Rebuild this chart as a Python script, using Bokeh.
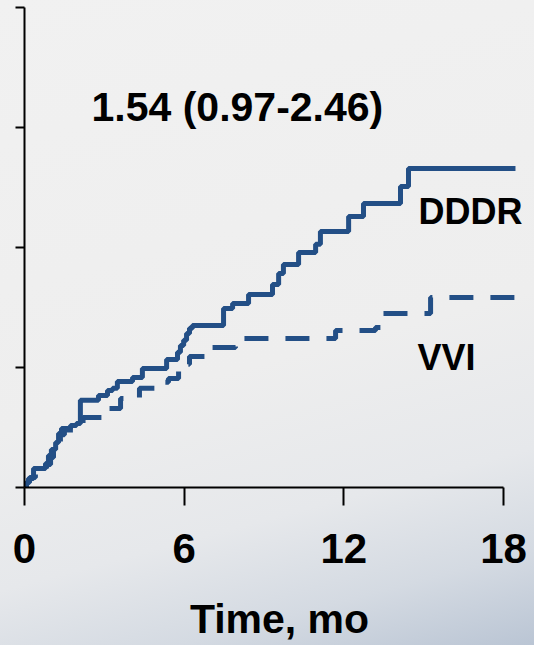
from bokeh.plotting import figure
from bokeh.models import FixedTicker, Range1d, Label
from bokeh.embed import file_html
from bokeh.resources import INLINE

# Cumulative incidence (%) by month
dddr_months = [0, 0.075, 0.15, 0.34, 0.79, 0.90, 1.01, 1.17, 1.28, 1.39, 1.73, 1.95,
               2.10, 2.78, 3.12, 3.31, 3.49, 4.06, 4.43, 5.34, 5.75, 5.86, 5.98,
               6.09, 6.20, 6.31, 7.48, 7.82, 8.42, 9.32, 9.55, 9.73, 10.30, 10.94,
               11.12, 12.18, 12.74, 14.13, 14.43, 18.45]
dddr_pct = [0, 0.21, 0.38, 0.79, 1.00, 1.33, 1.58, 1.88, 2.25, 2.46, 2.58, 2.67,
            3.63, 3.83, 4.04, 4.13, 4.42, 4.58, 4.96, 5.33, 5.63, 5.92, 6.13,
            6.42, 6.63, 6.75, 7.46, 7.67, 8.04, 8.46, 8.92, 9.29, 9.79, 10.13,
            10.67, 11.29, 11.83, 12.54, 13.29, 13.29]

vvi_months = [0, 0.075, 0.19, 0.41, 0.83, 0.98, 1.09, 1.24, 1.35, 1.50, 1.92, 2.20,
              2.93, 3.61, 4.32, 5.11, 5.41, 5.79, 5.98, 6.20, 6.91, 7.93, 8.19,
              11.69, 13.19, 13.38, 15.26, 18.45]
vvi_pct = [0, 0.21, 0.42, 0.75, 0.96, 1.25, 1.50, 1.83, 2.20, 2.40, 2.50, 2.92,
           3.29, 3.71, 4.13, 4.38, 4.54, 4.83, 5.13, 5.46, 5.83, 6.00, 6.21,
           6.54, 6.67, 7.25, 7.92, 7.92]

x_ticks = [0, 6, 12, 18]
y_ticks = [0, 5, 10, 15, 20]

hazard_text = "1.54 (0.97-2.46)"
series_names = ["DDDR", "VVI"]

LINE = "#234f86"
FONT = "Liberation Sans"

p = figure(width=534, height=645, output_backend="svg", toolbar_location=None,
           x_range=Range1d(0, 19.165), y_range=Range1d(0, 20.29),
           min_border_left=24, min_border_right=0, min_border_top=0,
           min_border_bottom=158)

p.styles = {"background-image":
            "linear-gradient(165deg, #f1f1f1 0%, #eeeeee 55%, #e6e8eb 75%, #d4dae2 88%, #bac5d4 100%)"}
p.background_fill_alpha = 0
p.border_fill_alpha = 0
p.outline_line_color = None
p.grid.visible = False

p.step(dddr_months, dddr_pct, mode="after", line_color=LINE, line_width=5)
p.step(vvi_months, vvi_pct, mode="after", line_color=LINE, line_width=5,
       line_dash="24 17")

# x axis
xa = p.xaxis[0]
xa.ticker = FixedTicker(ticks=x_ticks)
xa.bounds = (0, 18)
xa.minor_tick_line_color = None
xa.major_tick_in = 0
xa.major_tick_out = 18
xa.axis_line_width = 2
xa.major_tick_line_width = 2
xa.axis_line_color = "black"
xa.major_tick_line_color = "black"
xa.major_label_text_font = FONT
xa.major_label_text_font_style = "bold"
xa.major_label_text_font_size = "42px"
xa.major_label_text_color = "black"
xa.major_label_standoff = 28
xa.axis_label = "Time, mo"
xa.axis_label_text_font = FONT
xa.axis_label_text_font_style = "bold"
xa.axis_label_text_font_size = "41px"
xa.axis_label_text_color = "black"
xa.axis_label_standoff = 30

# y axis (its labels lie off the left edge in the original, so they are blank)
ya = p.yaxis[0]
ya.ticker = FixedTicker(ticks=y_ticks)
ya.bounds = (0, 20)
ya.minor_tick_line_color = None
ya.major_tick_in = 0
ya.major_tick_out = 9
ya.axis_line_width = 2
ya.major_tick_line_width = 2
ya.axis_line_color = "black"
ya.major_tick_line_color = "black"
ya.major_label_overrides = {t: "" for t in y_ticks}
ya.major_label_standoff = 0

p.add_layout(Label(x=8.0, y=15.85, text=hazard_text, text_align="center",
                   text_baseline="alphabetic", text_font=FONT,
                   text_font_style="bold", text_font_size="41px",
                   text_color="black"))
p.add_layout(Label(x=14.81, y=11.5, text=series_names[0], text_align="left",
                   text_baseline="alphabetic", text_font=FONT,
                   text_font_style="bold", text_font_size="36px",
                   text_color="black"))
p.add_layout(Label(x=14.77, y=5.42, text=series_names[1], text_align="left",
                   text_baseline="alphabetic", text_font=FONT,
                   text_font_style="bold", text_font_size="36px",
                   text_color="black"))

open("out.html", "w").write(file_html(p, INLINE))
